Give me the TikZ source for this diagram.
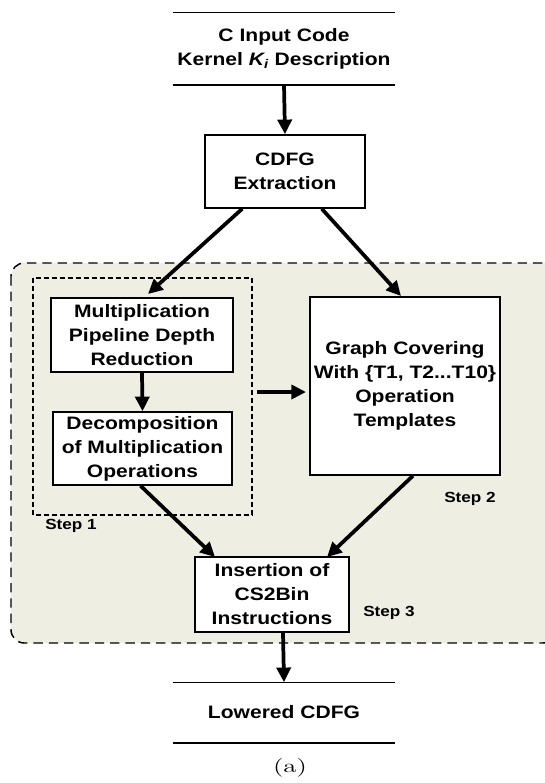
\documentclass[tikz,border=0pt]{standalone}
\usepackage{fontspec}
\setmainfont{Liberation Sans}[FakeStretch=1.17]
\newfontfamily\capfont{Latin Modern Roman}[FakeStretch=1.45]
\usetikzlibrary{arrows.meta,positioning}
\definecolor{stagebg}{RGB}{238,238,227}
\tikzset{
  px/.style={x=0.75pt,y=-0.75pt},
  procbox/.style={draw,line width=1.1pt,fill=white,align=center,font=\fontsize{13.5}{18}\selectfont\bfseries,inner sep=0pt},
  datanode/.style={align=center,font=\fontsize{13.5}{18}\selectfont\bfseries,inner sep=0pt,minimum width=166.5pt},
  steplabel/.style={font=\fontsize{11}{13}\selectfont\bfseries,inner sep=0pt},
  flow/.style={line width=2.8pt,-{Triangle[length=11pt,width=10.5pt]}},
}
\begin{document}
\begin{tikzpicture}[px]
\useasboundingbox (0,0) rectangle (544,783);
% stage background
\draw[fill=stagebg,line width=1.1pt,dash pattern=on 7pt off 4.5pt,rounded corners=10pt] (11,263) rectangle (556,643);
% step 1 group
\draw[line width=0.9pt,dash pattern=on 3.5pt off 2.5pt] (33,278) rectangle (252,515);

% input and output data
\node[datanode,minimum height=54pt] (in) at (284,48.5) {C Input Code\\Kernel \textit{K\textsubscript{i}} Description};
\draw[line width=1.1pt] (in.north west) -- (in.north east);
\draw[line width=1.1pt] (in.south west) -- (in.south east);

\node[datanode,minimum height=45pt] (out) at (284,712.5) {Lowered CDFG};
\draw[line width=1.1pt] (out.north west) -- (out.north east);
\draw[line width=1.1pt] (out.south west) -- (out.south east);

% processing steps
\node[procbox,minimum width=120pt,minimum height=54.75pt] (cdfg) at (285,171.5) {CDFG\\Extraction};
\node[procbox,minimum width=136.5pt,minimum height=55.5pt] (mpd) at (142,335) {Multiplication\\Pipeline Depth\\Reduction};
\node[procbox,minimum width=134.25pt,minimum height=54.75pt] (dec) at (142.5,448.5) {Decomposition\\of Multiplication\\Operations};
\node[procbox,minimum width=142.5pt,minimum height=133.5pt] (gc) at (405,386) {Graph Covering\\With \{T1, T2...T10\}\\Operation\\Templates};
\node[procbox,minimum width=115.5pt,minimum height=56.25pt] (ins) at (272,594.5) {Insertion of\\CS2Bin\\Instructions};

% step labels
\node[steplabel,anchor=west] (s1) at (45,526) {Step 1};
\node[steplabel,anchor=west] (s2) at (444,499) {Step 2};
\node[steplabel,anchor=west] (s3) at (363,613) {Step 3};

% connectors
\coordinate (g1) at (257,392);
\coordinate (g2) at (306,392);
\draw[flow] (in.south) -- (cdfg.north);
\draw[flow] (cdfg.south west) ++(38,0) -- (148,294);
\draw[flow] (cdfg.south east) ++(-44,0) -- (401,296);
\draw[flow] (mpd.south) -- (dec.north);
\draw[flow] (g1) -- (g2);
\draw[flow] (dec.south) ++(-2,0) -- (215,557);
\draw[flow] (gc.south) ++(8,0) -- (327,557);
\draw[flow] (ins.south) ++(11,0) -- (out.north);

% caption
\node[font=\capfont\fontsize{14}{16}\selectfont,inner sep=0pt] (cap) at (290,768) {(a)};
\end{tikzpicture}
\end{document}
